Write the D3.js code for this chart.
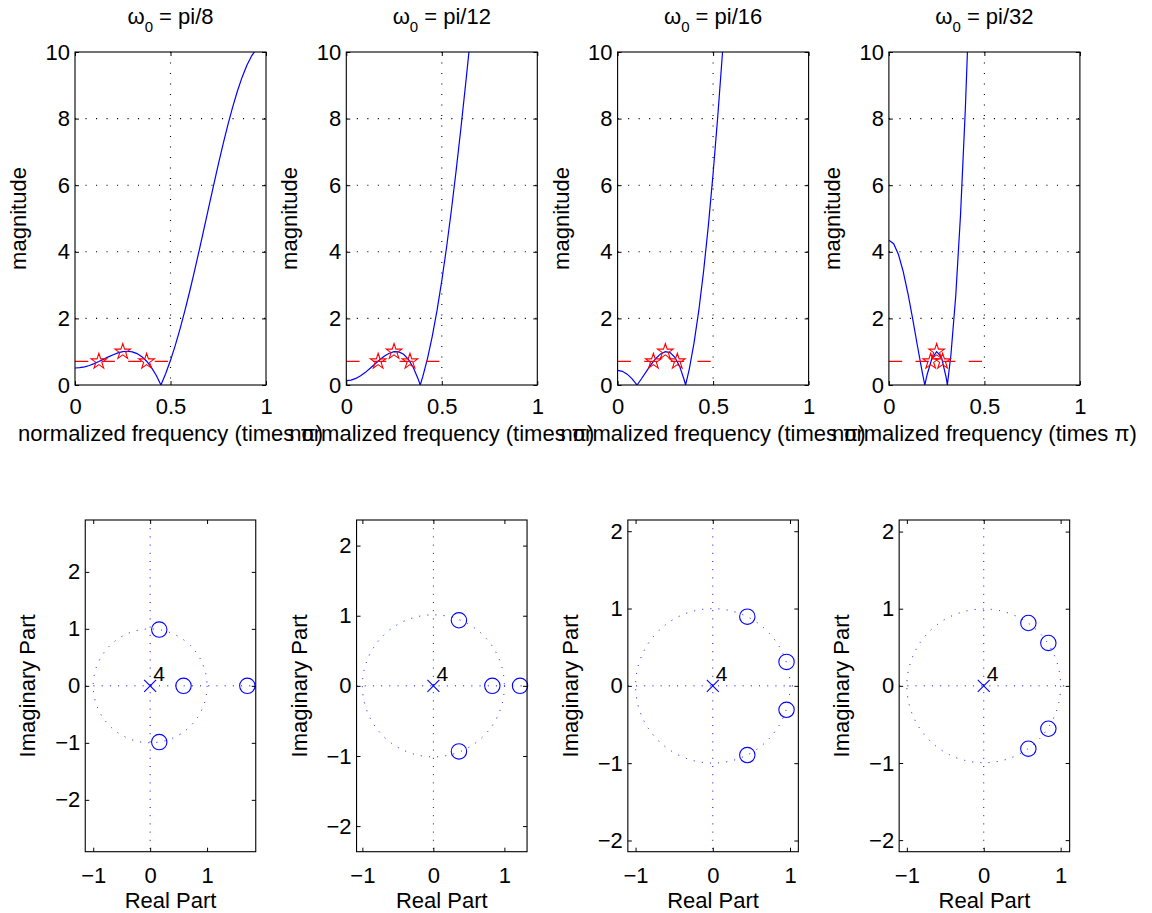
<!DOCTYPE html>
<html>
<head>
<meta charset="utf-8">
<script src="https://cdn.jsdelivr.net/npm/d3@7"></script>
<style>
  html, body { margin: 0; padding: 0; background: #fff; }
  svg { display: block; }
</style>
</head>
<body>
<svg id="fig" width="1152" height="913"></svg>
<script>
// ---- Data -------------------------------------------------------------
const titleLabels = ["pi/8", "pi/12", "pi/16", "pi/32"];
const freqTicks = [0, 0.5, 1];
const magTicks = [0, 2, 4, 6, 8, 10];
const halfPower = 0.7071;
const bandSpan = [0, 0.5];

// magnitude responses: [frequency (times pi), |H|]
const magPi8 = [
  [0, 0.511], [0.025, 0.520], [0.05, 0.546], [0.075, 0.587], [0.1, 0.642],
  [0.125, 0.706], [0.15, 0.776], [0.175, 0.846], [0.2, 0.910], [0.225, 0.964],
  [0.25, 1.000], [0.275, 1.013], [0.3, 0.996], [0.325, 0.944], [0.35, 0.852],
  [0.375, 0.714], [0.4, 0.528], [0.425, 0.291], [0.45, 0], [0.475, 0.344],
  [0.5, 0.741], [0.525, 1.189], [0.55, 1.685], [0.575, 2.224], [0.6, 2.800],
  [0.625, 3.407], [0.65, 4.038], [0.675, 4.683], [0.7, 5.334], [0.725, 5.982],
  [0.75, 6.615], [0.775, 7.226], [0.8, 7.803], [0.825, 8.337], [0.85, 8.820],
  [0.875, 9.244], [0.9, 9.601], [0.925, 9.885], [0.95, 10.092]
];
const magPi12 = [
  [0, 0.130], [0.025, 0.147], [0.05, 0.197], [0.075, 0.276], [0.1, 0.380],
  [0.125, 0.501], [0.15, 0.630], [0.175, 0.757], [0.2, 0.869], [0.225, 0.954],
  [0.25, 1.000], [0.275, 0.993], [0.3, 0.921], [0.325, 0.771], [0.35, 0.534],
  [0.375, 0.198], [0.387, 0], [0.4, 0.243], [0.425, 0.794], [0.45, 1.460],
  [0.475, 2.241], [0.5, 3.134], [0.525, 4.137], [0.55, 5.240], [0.575, 6.436],
  [0.6, 7.710], [0.625, 9.049], [0.65, 10.437]
];
const magPi16 = [
  [0, 0.439], [0.025, 0.410], [0.05, 0.325], [0.075, 0.191], [0.1, 0.015],
  [0.102, 0], [0.125, 0.188], [0.15, 0.404], [0.175, 0.614], [0.2, 0.797],
  [0.225, 0.934], [0.25, 1.000], [0.275, 0.974], [0.3, 0.833], [0.325, 0.558],
  [0.35, 0.128], [0.356, 0], [0.375, 0.472], [0.4, 1.255], [0.425, 2.231],
  [0.45, 3.406], [0.475, 4.780], [0.5, 6.350], [0.525, 8.109], [0.55, 10.044]
];
const magPi32 = [
  [0, 4.351], [0.025, 4.242], [0.05, 3.919], [0.075, 3.406], [0.1, 2.740],
  [0.125, 1.969], [0.15, 1.156], [0.175, 0.370], [0.188, 0], [0.2, 0.308],
  [0.225, 0.794], [0.25, 1.000], [0.275, 0.839], [0.3, 0.224], [0.306, 0],
  [0.325, 0.925], [0.35, 2.681], [0.375, 5.109], [0.4, 8.258], [0.425, 12.167]
];
const magSeries = [magPi8, magPi12, magPi16, magPi32];

// design points: centre frequency and the two half-power edges
const starFreq = [
  [0.125, 0.25, 0.375],
  [0.1667, 0.25, 0.3333],
  [0.1875, 0.25, 0.3125],
  [0.21875, 0.25, 0.28125]
];
const starMag = [halfPower, 1, halfPower];

// pole-zero maps
const zeroRe = [
  [0.16, 0.16, 0.586, 1.707],
  [0.36, 0.36, 0.83, 1.22],
  [0.447, 0.447, 0.955, 0.955],
  [0.58, 0.58, 0.84, 0.84]
];
const zeroIm = [
  [0.987, -0.987, 0, 0],
  [0.935, -0.935, 0, 0],
  [0.895, -0.895, 0.31, -0.31],
  [0.815, -0.815, 0.556, -0.556]
];
const poleRe = [0];
const poleIm = [0];
const poleMultiplicity = "4";
const pzXLimits = [[-1.14, 1.855], [-1.082, 1.319], [-1.1, 1.108], [-1.1, 1.117]];
const pzYLimits = [[-2.91, 2.91], [-2.365, 2.365], [-2.145, 2.145], [-2.15, 2.15]];
const pzXTicks = [-1, 0, 1];
const pzYTicks = [-2, -1, 0, 1, 2];

// ---- Layout -----------------------------------------------------------
const FONT = "'Liberation Sans', Arial, Helvetica, sans-serif";
const BLUE = "#0000ff", RED = "#ff0000";
const centers = [170.5, 441.8, 713.1, 984.4];
const topBox = { w: 191, top: 52, bottom: 385 };
const botBox = { w: 170.5, top: 520, bottom: 851.7 };
const fmt = d => (d < 0 ? "\u2212" + Math.abs(d) : String(d));

const svg = d3.select("#fig");
const defs = svg.append("defs");

function styleAxis(sel, size) {
  sel.select(".domain").remove();
  sel.attr("font-family", FONT).attr("font-size", size);
  sel.selectAll(".tick line").attr("stroke", "#000").attr("stroke-width", 1);
  sel.selectAll(".tick text").attr("fill", "#000");
}

function frame(g, x, y, xt, yt, opts) {
  const [x0, x1] = x.range();
  const [y0, y1] = y.range();
  g.append("g").attr("transform", `translate(0,${y0})`)
    .call(d3.axisBottom(x).tickValues(xt).tickFormat(fmt)
      .tickSizeInner(-4).tickSizeOuter(0).tickPadding(opts.xPad))
    .call(s => styleAxis(s, opts.tickSize));
  g.append("g").attr("transform", `translate(0,${y1})`)
    .call(d3.axisTop(x).tickValues(xt).tickFormat("")
      .tickSizeInner(-4).tickSizeOuter(0))
    .call(s => styleAxis(s, opts.tickSize));
  g.append("g").attr("transform", `translate(${x0},0)`)
    .call(d3.axisLeft(y).tickValues(yt).tickFormat(fmt)
      .tickSizeInner(-4).tickSizeOuter(0).tickPadding(5))
    .call(s => styleAxis(s, opts.tickSize));
  g.append("g").attr("transform", `translate(${x1},0)`)
    .call(d3.axisRight(y).tickValues(yt).tickFormat("")
      .tickSizeInner(-4).tickSizeOuter(0))
    .call(s => styleAxis(s, opts.tickSize));
  g.append("rect")
    .attr("x", x0).attr("y", y1)
    .attr("width", x1 - x0).attr("height", y0 - y1)
    .attr("fill", "none").attr("stroke", "#000").attr("stroke-width", 1.1);
}

// ---- Magnitude responses (top row) -----------------------------------
magSeries.forEach((series, i) => {
  const left = centers[i] - topBox.w / 2;
  const x = d3.scaleLinear().domain([0, 1]).range([left, left + topBox.w]);
  const y = d3.scaleLinear().domain([0, 10]).range([topBox.bottom, topBox.top]);
  const g = svg.append("g").attr("class", "mag-panel");

  defs.append("clipPath").attr("id", "clip-mag-" + i)
    .append("rect").attr("x", left).attr("y", topBox.top)
    .attr("width", topBox.w).attr("height", topBox.bottom - topBox.top);

  // dotted grid
  g.selectAll(".gx").data(freqTicks.filter(t => t > 0 && t < 1)).join("line")
    .attr("x1", d => x(d)).attr("x2", d => x(d))
    .attr("y1", topBox.top).attr("y2", topBox.bottom)
    .attr("stroke", "#000").attr("stroke-width", 1.1).attr("stroke-dasharray", "1.1,9.4");
  g.selectAll(".gy").data(magTicks.filter(t => t > 0 && t < 10)).join("line")
    .attr("y1", d => y(d)).attr("y2", d => y(d))
    .attr("x1", left).attr("x2", left + topBox.w)
    .attr("stroke", "#000").attr("stroke-width", 1.1).attr("stroke-dasharray", "1.1,9.4");

  // response curve
  g.append("path").datum(series)
    .attr("clip-path", `url(#clip-mag-${i})`)
    .attr("d", d3.line().x(d => x(d[0])).y(d => y(d[1])))
    .attr("fill", "none").attr("stroke", BLUE).attr("stroke-width", 1.2);

  // half-power reference
  g.append("line")
    .attr("x1", x(bandSpan[0])).attr("x2", x(bandSpan[1]))
    .attr("y1", y(halfPower)).attr("y2", y(halfPower))
    .attr("stroke", RED).attr("stroke-width", 1.3).attr("stroke-dasharray", "13.3,13.3");

  // design points
  const star = d3.symbol().type(d3.symbolStar).size(76);
  g.selectAll(".star").data(starFreq[i].map((f, k) => [f, starMag[k]])).join("path")
    .attr("transform", d => `translate(${x(d[0])},${y(d[1])})`)
    .attr("d", star)
    .attr("fill", "none").attr("stroke", RED).attr("stroke-width", 1.1);

  frame(g, x, y, freqTicks, magTicks, { xPad: 13, tickSize: 22 });

  // title
  const t = g.append("text")
    .attr("x", centers[i]).attr("y", 24)
    .attr("text-anchor", "middle")
    .attr("font-family", FONT).attr("font-size", 22).attr("fill", "#000");
  t.append("tspan").text("\u03C9");
  t.append("tspan").attr("dy", 8).attr("font-size", 15).text("0");
  t.append("tspan").attr("dy", -8).text(" = " + titleLabels[i]);

  // axis labels
  g.append("text")
    .attr("x", centers[i]).attr("y", 440.5)
    .attr("text-anchor", "middle")
    .attr("font-family", FONT).attr("font-size", 22).attr("fill", "#000")
    .text("normalized frequency (times \u03C0)");
  g.append("text")
    .attr("transform", `translate(${left - 49},${(topBox.top + topBox.bottom) / 2}) rotate(-90)`)
    .attr("text-anchor", "middle")
    .attr("font-family", FONT).attr("font-size", 22).attr("fill", "#000")
    .text("magnitude");
});

// ---- Pole-zero plots (bottom row) ------------------------------------
zeroRe.forEach((re, i) => {
  const left = centers[i] - botBox.w / 2;
  const x = d3.scaleLinear().domain(pzXLimits[i]).range([left, left + botBox.w]);
  const y = d3.scaleLinear().domain(pzYLimits[i]).range([botBox.bottom, botBox.top]);
  const g = svg.append("g").attr("class", "pz-panel");
  const dotted = s => s.attr("fill", "none").attr("stroke", BLUE)
    .attr("stroke-width", 1).attr("stroke-dasharray", "1,7.2");

  // real and imaginary axes, unit circle
  g.append("line").attr("x1", x.range()[0]).attr("x2", x.range()[1])
    .attr("y1", y(0)).attr("y2", y(0)).call(dotted);
  g.append("line").attr("x1", x(0)).attr("x2", x(0))
    .attr("y1", botBox.top).attr("y2", botBox.bottom).call(dotted);
  g.append("circle").attr("cx", x(0)).attr("cy", y(0))
    .attr("r", x(1) - x(0)).call(dotted);

  // zeros
  g.selectAll(".zero").data(re.map((r, k) => [r, zeroIm[i][k]])).join("circle")
    .attr("cx", d => x(d[0])).attr("cy", d => y(d[1])).attr("r", 7.7)
    .attr("fill", "none").attr("stroke", BLUE).attr("stroke-width", 1.1);

  // poles
  const cross = d3.symbol().type(d3.symbolX).size(95);
  g.selectAll(".pole").data(poleRe.map((r, k) => [r, poleIm[k]])).join("path")
    .attr("transform", d => `translate(${x(d[0])},${y(d[1])})`)
    .attr("d", cross)
    .attr("fill", "none").attr("stroke", BLUE).attr("stroke-width", 1.1);
  g.append("text")
    .attr("x", x(poleRe[0]) + 3).attr("y", y(poleIm[0]) - 4.5)
    .attr("font-family", FONT).attr("font-size", 21).attr("fill", "#000")
    .text(poleMultiplicity);

  frame(g, x, y, pzXTicks, pzYTicks, { xPad: 16, tickSize: 22 });

  g.append("text")
    .attr("x", centers[i]).attr("y", 908)
    .attr("text-anchor", "middle")
    .attr("font-family", FONT).attr("font-size", 22).attr("fill", "#000")
    .text("Real Part");
  g.append("text")
    .attr("transform", `translate(${left - 50},${(botBox.top + botBox.bottom) / 2}) rotate(-90)`)
    .attr("text-anchor", "middle")
    .attr("font-family", FONT).attr("font-size", 22).attr("fill", "#000")
    .text("Imaginary Part");
});
</script>
</body>
</html>
